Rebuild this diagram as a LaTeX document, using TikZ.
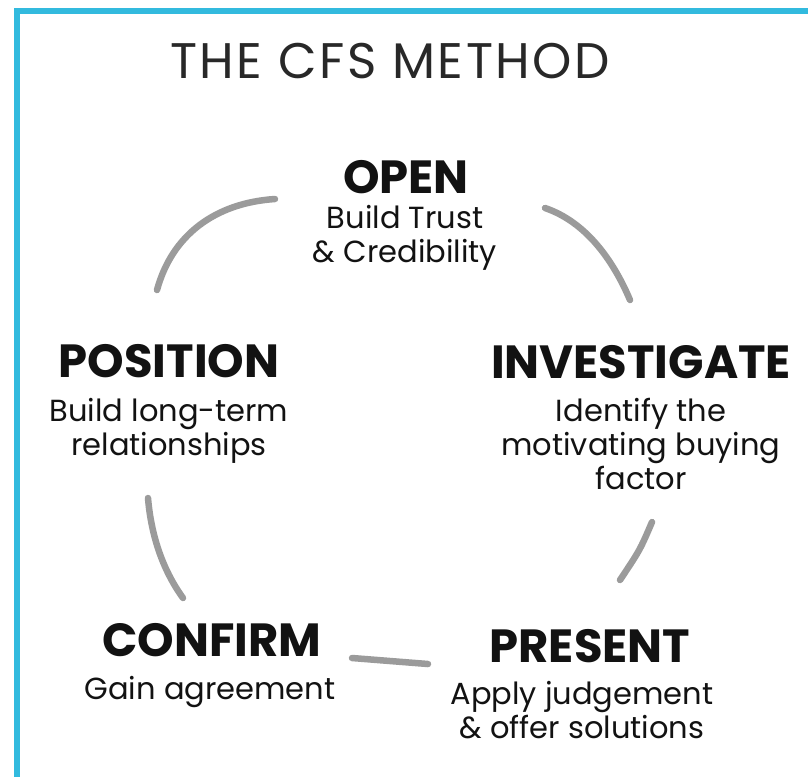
\documentclass[tikz,border=0pt]{standalone}
\usepackage{fontspec}
\setmainfont{Poppins}
\newfontfamily\titlefont{Poppins}[LetterSpace=5]
\usetikzlibrary{positioning}
\definecolor{cfsblue}{RGB}{50,186,222}
\definecolor{arcgray}{RGB}{155,155,155}
\definecolor{inkblack}{RGB}{18,18,18}
\definecolor{titlegray}{RGB}{40,40,40}
\tikzset{arcline/.style = {draw=arcgray, line width=6.5, line cap=round}}
\tikzset{title/.style = {anchor=base, inner sep=0, text=titlegray,
                         font=\titlefont\fontsize{50}{50}\selectfont}}
\tikzset{stage/.style = {anchor=base, inner sep=0, text=inkblack,
                         font=\fontsize{46.5}{46.5}\selectfont\bfseries}}
\tikzset{blurb/.style = {anchor=base, inner sep=0, align=center, text=inkblack,
                         font=\fontsize{30.5}{34}\selectfont}}

\begin{document}
\begin{tikzpicture}[x=1pt, y=-1pt]
      \useasboundingbox [fill=white] (0, 0) rectangle (808, 777);
      \fill [cfsblue] (14, 8) rectangle (808, 14);
      \fill [cfsblue] (14, 8) rectangle (20, 777);

      \node [title] (title) at (390, 78) {THE CFS METHOD};

      % base anchor of a wrapped text sits on its last line
      \node [stage] (open) at (406, 193) {OPEN};
      \node [blurb] (open-txt) at (405, 262) {Build Trust\\\& Credibility};

      \node [stage] (investigate) at (641, 378) {INVESTIGATE};
      \node [blurb] (investigate-txt) at (641, 489)
            {Identify the\\motivating buying\\factor};

      \node [stage] (present) at (590, 662) {PRESENT};
      \node [blurb] (present-txt) at (582, 738)
            {Apply judgement\\\& offer solutions};

      \node [stage] (confirm) at (212, 656) {CONFIRM};
      \node [blurb] (confirm-txt) at (210, 699) {Gain agreement};

      \node [stage] (position) at (169, 377) {POSITION};
      \node [blurb] (position-txt) at (169, 455)
            {Build long-term\\relationships};

      \coordinate (p1) at (275, 199);
      \coordinate (p2) at (157, 290);
      \coordinate (i1) at (545, 208);
      \coordinate (i2) at (630, 300);
      \coordinate (r1) at (652, 522);
      \coordinate (r2) at (620, 580);
      \coordinate (c1) at (352, 658);
      \coordinate (c2) at (428, 664);
      \coordinate (s1) at (148, 498);
      \coordinate (s2) at (183, 598);

      \draw [arcline] (p1) .. controls (215, 203) and (172, 235) .. (p2);
      \draw [arcline] (i1) .. controls (586, 222) and (613, 260) .. (i2);
      \draw [arcline] (r1) .. controls (640, 550) .. (r2);
      \draw [arcline] (c1) -- (c2);
      \draw [arcline] (s1) .. controls (151, 534) and (162, 569) .. (s2);
\end{tikzpicture}
\end{document}
